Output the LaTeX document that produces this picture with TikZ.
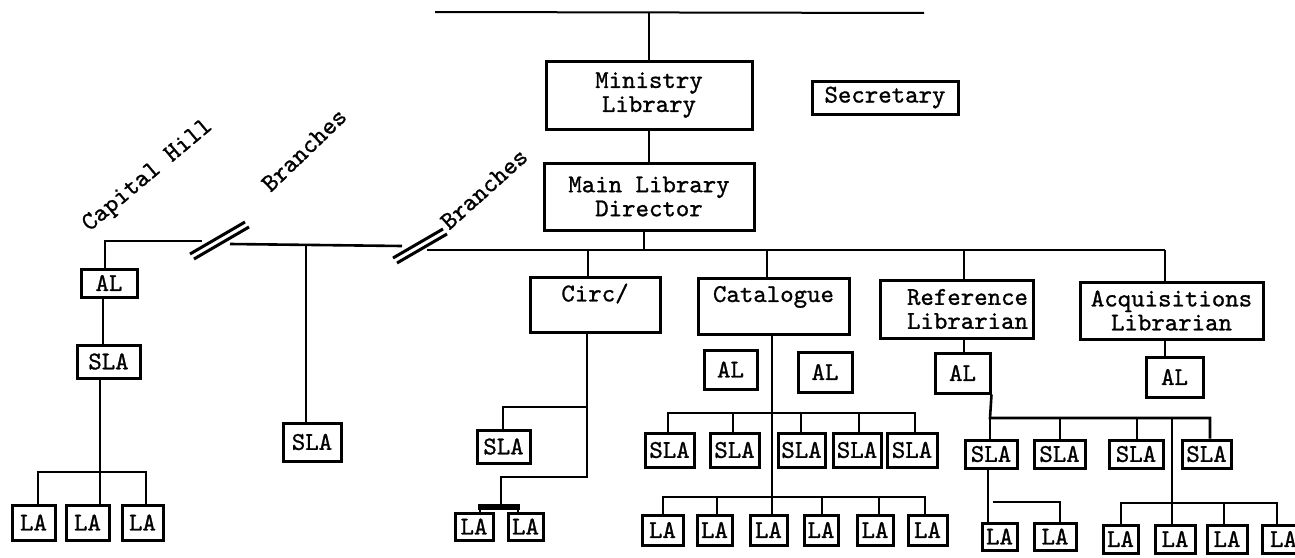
\documentclass[tikz,border=0pt]{standalone}
\usepackage{fontspec}
\newfontfamily\tw{lmmono10-regular.otf}[FakeBold=1]
\usetikzlibrary{fit}
\begin{document}
\begin{tikzpicture}[x=0.5pt,y=-0.5pt,
  bx/.style={draw, line width=1.5pt, inner sep=0pt},
  lt/.style={inner sep=0pt, align=center, font=\tw\fontsize{12.8}{12}\selectfont},
  ln/.style={line width=1.3pt},
  thinln/.style={line width=1pt},
  brk/.style={line width=1.5pt},
  lbl/.style={inner sep=0pt, font=\tw\fontsize{12.8}{12}\selectfont}]
\useasboundingbox (0,0) rectangle (1295,557);
\clip (0,0) rectangle (1295,557);

% ---------- top ----------
\coordinate (topL) at (435,12);
\coordinate (topR) at (924,13);
\node[bx, fit={(546,61) (752,129)}, label={[lt]center:Ministry\\Library}] (min) {};
\node[bx, fit={(544,163) (754,230)}, label={[lt]center:Main Library\\Director}] (dir) {};
\node[bx, fit={(812,81) (958,114)}, label={[lt]center:Secretary}] (sec) {};
\draw[thinln] (topL) -- (topR);
\draw[ln] (min.north |- topL) -- (min.north);
\draw[ln] (min.south) -- (dir.north);

% ---------- main line ----------
\coordinate (mainL) at (427,250);
\coordinate (mainR) at (1165,250);
\draw[ln] (mainL) -- (mainR);
\draw[ln] (dir.south -| 644,0) -- (644,250);

% ---------- rotated labels ----------
\node[lbl, rotate=40] (capl) at (148,176) {Capital Hill};
\node[lbl, rotate=44] (br1) at (304,150) {Branches};
\node[lbl, rotate=42] (br2) at (484,189) {Branches};

% ---------- break marks ----------
\draw[brk] (190,254) -- (245,222);
\draw[brk] (194,259) -- (249,227);
\draw[brk] (393,258) -- (443,229);
\draw[brk] (397,263) -- (447,234);

% ---------- Capital Hill ----------
\coordinate (chL) at (105,241);
\coordinate (chR) at (202,241);
\node[bx, fit={(81,269) (137,297)}, label={[lt]center:AL}] (alc) {};
\node[bx, fit={(77,345) (140,378)}, label={[lt]center:SLA}] (slac) {};
\node[bx, fit={(12,505) (55,540)}, label={[lt]center:LA}] (lac1) {};
\node[bx, fit={(66,505) (109,540)}, label={[lt]center:LA}] (lac2) {};
\node[bx, fit={(122,505) (163,540)}, label={[lt]center:LA}] (lac3) {};
\draw[ln] (chR) -- (chL) -- (chL |- alc.north);
\draw[ln] (alc.south -| 103,0) -- (slac.north -| 103,0);
\coordinate (cbar) at (100,472);
\draw[ln] (slac.south -| cbar) -- (cbar);
\draw[ln] (lac1.north -| 38,0) -- (38,472) -- (146,472) -- (lac3.north -| 146,0);
\draw[ln] (cbar) -- (lac2.north -| cbar);

% ---------- middle branch ----------
\coordinate (b1R) at (230,244);
\coordinate (b2L) at (402,246);
\coordinate (bm) at (306,245);
\node[bx, fit={(283,423) (341,461)}, label={[lt]center:SLA}] (slam) {};
\draw[ln] (b1R) -- (b2L);
\draw[ln] (bm) -- (bm |- slam.north);

% ---------- Circ ----------
\node[bx, fit={(530,277) (660,332)}, label={[lt]center:Circ/\\~}] (circ) {};
\node[bx, fit={(477,430) (530,463)}, label={[lt]center:SLA}] (slaci) {};
\node[bx, fit={(455,513) (493,540)}, label={[lt]center:LA}] (laci1) {};
\node[bx, fit={(508,513) (543,540)}, label={[lt]center:LA}] (laci2) {};
\coordinate (cj) at (588,250);
\draw[ln] (cj) -- (cj |- circ.north);
\coordinate (cv) at (587,477);
\draw[ln] (circ.south -| cv) -- (cv) -- (501,477) -- (501,506);
\draw[ln] (587,407) -- (503,407) -- (slaci.north -| 503,0);
\draw[line width=2.6pt] (478,507) -- (520,507);
\draw[ln] (480,507) -- (laci1.north -| 480,0);
\draw[ln] (518,507) -- (laci2.north -| 518,0);

% ---------- Catalogue ----------
\node[bx, fit={(698,278) (849,334)}, label={[lt]center:Catalogue\\~}] (cat) {};
\node[bx, fit={(704,350) (757,389)}, label={[lt]center:AL}] (catal1) {};
\node[bx, fit={(798,352) (852,392)}, label={[lt]center:AL}] (catal2) {};
\node[bx, fit={(645,433) (694,467)}, label={[lt]center:SLA}] (cs1) {};
\node[bx, fit={(710,433) (759,467)}, label={[lt]center:SLA}] (cs2) {};
\node[bx, fit={(778,433) (825,467)}, label={[lt]center:SLA}] (cs3) {};
\node[bx, fit={(833,433) (881,467)}, label={[lt]center:SLA}] (cs4) {};
\node[bx, fit={(887,433) (937,467)}, label={[lt]center:SLA}] (cs5) {};
\node[bx, fit={(642,515) (683,545)}, label={[lt]center:LA}] (cl1) {};
\node[bx, fit={(697,515) (732,545)}, label={[lt]center:LA}] (cl2) {};
\node[bx, fit={(750,515) (787,545)}, label={[lt]center:LA}] (cl3) {};
\node[bx, fit={(804,515) (838,545)}, label={[lt]center:LA}] (cl4) {};
\node[bx, fit={(857,515) (893,545)}, label={[lt]center:LA}] (cl5) {};
\node[bx, fit={(908,515) (947,545)}, label={[lt]center:LA}] (cl6) {};
\coordinate (catj) at (767,250);
\draw[ln] (catj) -- (catj |- cat.north);
\coordinate (cb) at (772,497);
\draw[ln] (cat.south -| cb) -- (cb);
\draw[ln] (cs1.north -| 668,0) -- (668,413) -- (915,413) -- (cs5.north -| 915,0);
\draw[ln] (733,413) -- (cs2.north -| 733,0);
\draw[ln] (801,413) -- (cs3.north -| 801,0);
\draw[ln] (859,413) -- (cs4.north -| 859,0);
\draw[ln] (cl1.north -| 663,0) -- (663,497) -- (925,497) -- (cl6.north -| 925,0);
\draw[ln] (717,497) -- (cl2.north -| 717,0);
\draw[ln] (cb) -- (cl3.north -| cb);
\draw[ln] (822,497) -- (cl4.north -| 822,0);
\draw[ln] (879,497) -- (cl5.north -| 879,0);

% ---------- Reference ----------
\node[bx, fit={(880,280) (1033,338)}, label={[lt, xshift=5.5pt]center:Reference\\Librarian}] (ref) {};
\node[bx, fit={(935,353) (990,393)}, label={[lt]center:AL}] (ral) {};
\node[bx, fit={(965,440) (1017,468)}, label={[lt]center:SLA}] (rs1) {};
\node[bx, fit={(1034,440) (1085,468)}, label={[lt]center:SLA}] (rs2) {};
\node[bx, fit={(1109,440) (1163,468)}, label={[lt]center:SLA}] (rs3) {};
\node[bx, fit={(1182,440) (1231,468)}, label={[lt]center:SLA}] (rs4) {};
\node[bx, fit={(982,523) (1017,550)}, label={[lt]center:LA}] (rla1) {};
\node[bx, fit={(1034,523) (1076,550)}, label={[lt]center:LA}] (rla2) {};
\node[bx, fit={(1103,525) (1138,553)}, label={[lt]center:LA}] (rl1) {};
\node[bx, fit={(1155,525) (1195,553)}, label={[lt]center:LA}] (rl2) {};
\node[bx, fit={(1207,525) (1247,553)}, label={[lt]center:LA}] (rl3) {};
\node[bx, fit={(1262,525) (1305,553)}, label={[lt]center:LA}] (rl4) {};
\coordinate (rj) at (964,250);
\draw[ln] (rj) -- (rj |- ref.north);
\draw[ln] (ref.south -| rj) -- (ral.north -| rj);
\draw[ln] (ral.south east) -- (990,418) -- (1210,418) -- (rs4.north -| 1210,0);
\draw[ln] (990,418) -- (rs1.north -| 990,0);
\draw[ln] (1060,418) -- (rs2.north -| 1060,0);
\draw[ln] (1137,418) -- (rs3.north -| 1137,0);
\draw[ln] (1172,418) -- (rl2.north -| 1172,0);
\draw[ln] (rs1.south -| 988,0) -- (rla1.north -| 988,0);
\draw[ln] (993,502) -- (1060,502) -- (rla2.north -| 1060,0);
\draw[ln] (rl1.north -| 1121,0) -- (1121,503) -- (1277,503) -- (rl4.north -| 1277,0);
\draw[ln] (1224,503) -- (rl3.north -| 1224,0);

% ---------- Acquisitions ----------
\node[bx, fit={(1080,282) (1263,339)}, label={[lt]center:Acquisitions\\Librarian}] (acq) {};
\node[bx, fit={(1146,357) (1203,397)}, label={[lt]center:AL}] (aal) {};
\draw[ln] (mainR) -- (mainR |- acq.north);
\draw[ln] (acq.south -| mainR) -- (aal.north -| mainR);
\end{tikzpicture}
\end{document}
